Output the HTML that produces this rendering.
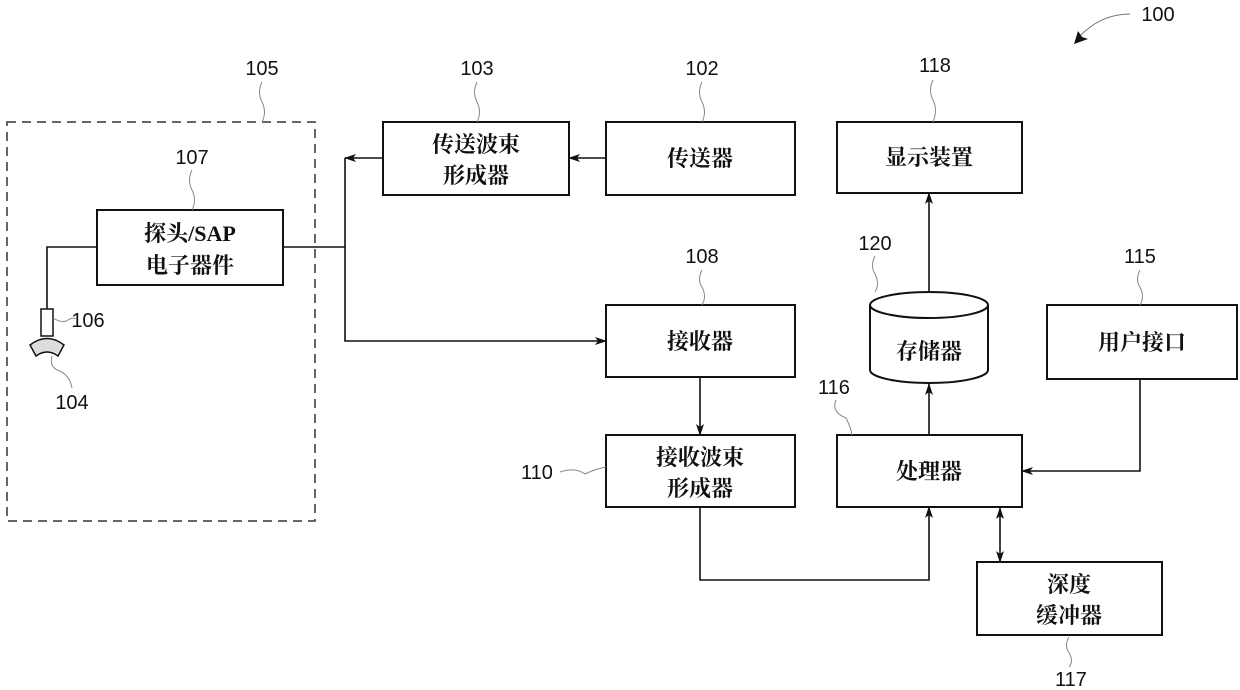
<!DOCTYPE html>
<html><head><meta charset="utf-8"><style>
body{margin:0;background:#fff}
svg{display:block}
.t{font-family:"Liberation Serif","Noto Serif CJK SC",serif;font-weight:bold;font-size:22px;fill:#111;text-anchor:middle}
.n{font-family:"Liberation Sans",sans-serif;font-size:20px;fill:#111;text-anchor:middle}
.b{fill:#fff;stroke:#111;stroke-width:2}
.l{fill:none;stroke:#111;stroke-width:1.6}
.s{fill:none;stroke:#888;stroke-width:1}
</style></head><body>
<svg width="1240" height="690" viewBox="0 0 1240 690">
<defs><marker id="a" markerWidth="12" markerHeight="10" refX="11" refY="5" orient="auto" markerUnits="userSpaceOnUse"><path d="M0,1 L12,5 L0,9 L3,5 Z" fill="#111"/></marker>
<marker id="as" markerWidth="12" markerHeight="10" refX="1" refY="5" orient="auto" markerUnits="userSpaceOnUse"><path d="M12,1 L0,5 L12,9 L9,5 Z" fill="#111"/></marker></defs>
<rect x="7" y="122" width="308" height="399" fill="none" stroke="#333" stroke-width="1.5" stroke-dasharray="9,6"/>
<rect class="b" x="97" y="210" width="186" height="75"/>
<text class="t" x="190" y="241">探头/SAP</text><text class="t" x="190" y="273">电子器件</text>
<path class="l" d="M97,247 H47 V309"/>
<rect x="41" y="309" width="12" height="27" fill="#fff" stroke="#111" stroke-width="1.5"/>
<path d="M30,345 Q47,332 64,345 L58,356 Q47,348 36,356 Z" fill="#ddd" stroke="#111" stroke-width="1.5"/>
<rect class="b" x="383" y="122" width="186" height="73"/>
<text class="t" x="476" y="152">传送波束</text><text class="t" x="476" y="183">形成器</text>
<rect class="b" x="606" y="122" width="189" height="73"/><text class="t" x="700" y="166">传送器</text>
<rect class="b" x="837" y="122" width="185" height="71"/><text class="t" x="929" y="165">显示装置</text>
<rect class="b" x="606" y="305" width="189" height="72"/><text class="t" x="700" y="349">接收器</text>
<rect class="b" x="606" y="435" width="189" height="72"/>
<text class="t" x="700" y="465">接收波束</text><text class="t" x="700" y="496">形成器</text>
<rect class="b" x="837" y="435" width="185" height="72"/><text class="t" x="929" y="479">处理器</text>
<rect class="b" x="1047" y="305" width="190" height="74"/><text class="t" x="1142" y="350">用户接口</text>
<rect class="b" x="977" y="562" width="185" height="73"/>
<text class="t" x="1069" y="592">深度</text><text class="t" x="1069" y="623">缓冲器</text>
<path class="b" d="M870,305 V370 A59,13 0 0 0 988,370 V305"/>
<ellipse class="b" cx="929" cy="305" rx="59" ry="13"/>
<text class="t" x="929" y="359">存储器</text>
<path class="l" d="M606,158 H569" marker-end="url(#a)"/>
<path class="l" d="M383,158 H345" marker-end="url(#a)"/>
<path class="l" d="M345,158 V341 H606" marker-end="url(#a)"/>
<path class="l" d="M283,247 H345"/>
<path class="l" d="M700,377 V435" marker-end="url(#a)"/>
<path class="l" d="M700,507 V580 H929 V507" marker-end="url(#a)"/>
<path class="l" d="M929,435 V384" marker-end="url(#a)"/>
<path class="l" d="M929,292 V193" marker-end="url(#a)"/>
<path class="l" d="M1140,379 V471 H1022" marker-end="url(#a)"/>
<path class="l" d="M1000,508 V562" marker-start="url(#as)" marker-end="url(#a)"/>
<path d="M1130,14 Q1100,14 1078,38" fill="none" stroke="#777" stroke-width="1"/>
<path d="M1074,44 L1078,31 L1082,37 L1088,39 Z" fill="#111"/>
<text class="n" x="1158" y="21">100</text>
<text class="n" x="262" y="75">105</text><path class="s" d="M262,82 q-5,10 0,20 q5,10 0,20"/>
<text class="n" x="477" y="75">103</text><path class="s" d="M477,82 q-5,10 0,20 q5,10 0,20"/>
<text class="n" x="702" y="75">102</text><path class="s" d="M702,82 q-5,10 0,20 q5,10 0,20"/>
<text class="n" x="935" y="72">118</text><path class="s" d="M933,80 q-5,10 0,20 q5,10 0,22"/>
<text class="n" x="192" y="164">107</text><path class="s" d="M192,170 q-5,10 0,20 q5,10 0,20"/>
<text class="n" x="702" y="263">108</text><path class="s" d="M702,270 q-5,10 0,17 q5,10 0,18"/>
<text class="n" x="875" y="250">120</text><path class="s" d="M875,256 q-5,10 0,18 q5,10 0,18"/>
<text class="n" x="1140" y="263">115</text><path class="s" d="M1140,270 q-5,10 0,17 q5,10 0,18"/>
<text class="n" x="834" y="394">116</text><path class="s" d="M836,400 q-5,12 10,18 q5,10 6,17"/>
<text class="n" x="537" y="479">110</text><path class="s" d="M560,472 q15,-5 25,2 q10,-5 21,-7"/>
<text class="n" x="88" y="327">106</text><path class="s" d="M53,318 q10,6 15,2 q5,-3 8,-1"/>
<text class="n" x="72" y="409">104</text><path class="s" d="M52,356 q-3,12 8,15 q10,5 12,17"/>
<text class="n" x="1071" y="686">117</text><path class="s" d="M1069,637 q-5,8 0,16 q5,8 0,14"/>
</svg>
</body></html>
